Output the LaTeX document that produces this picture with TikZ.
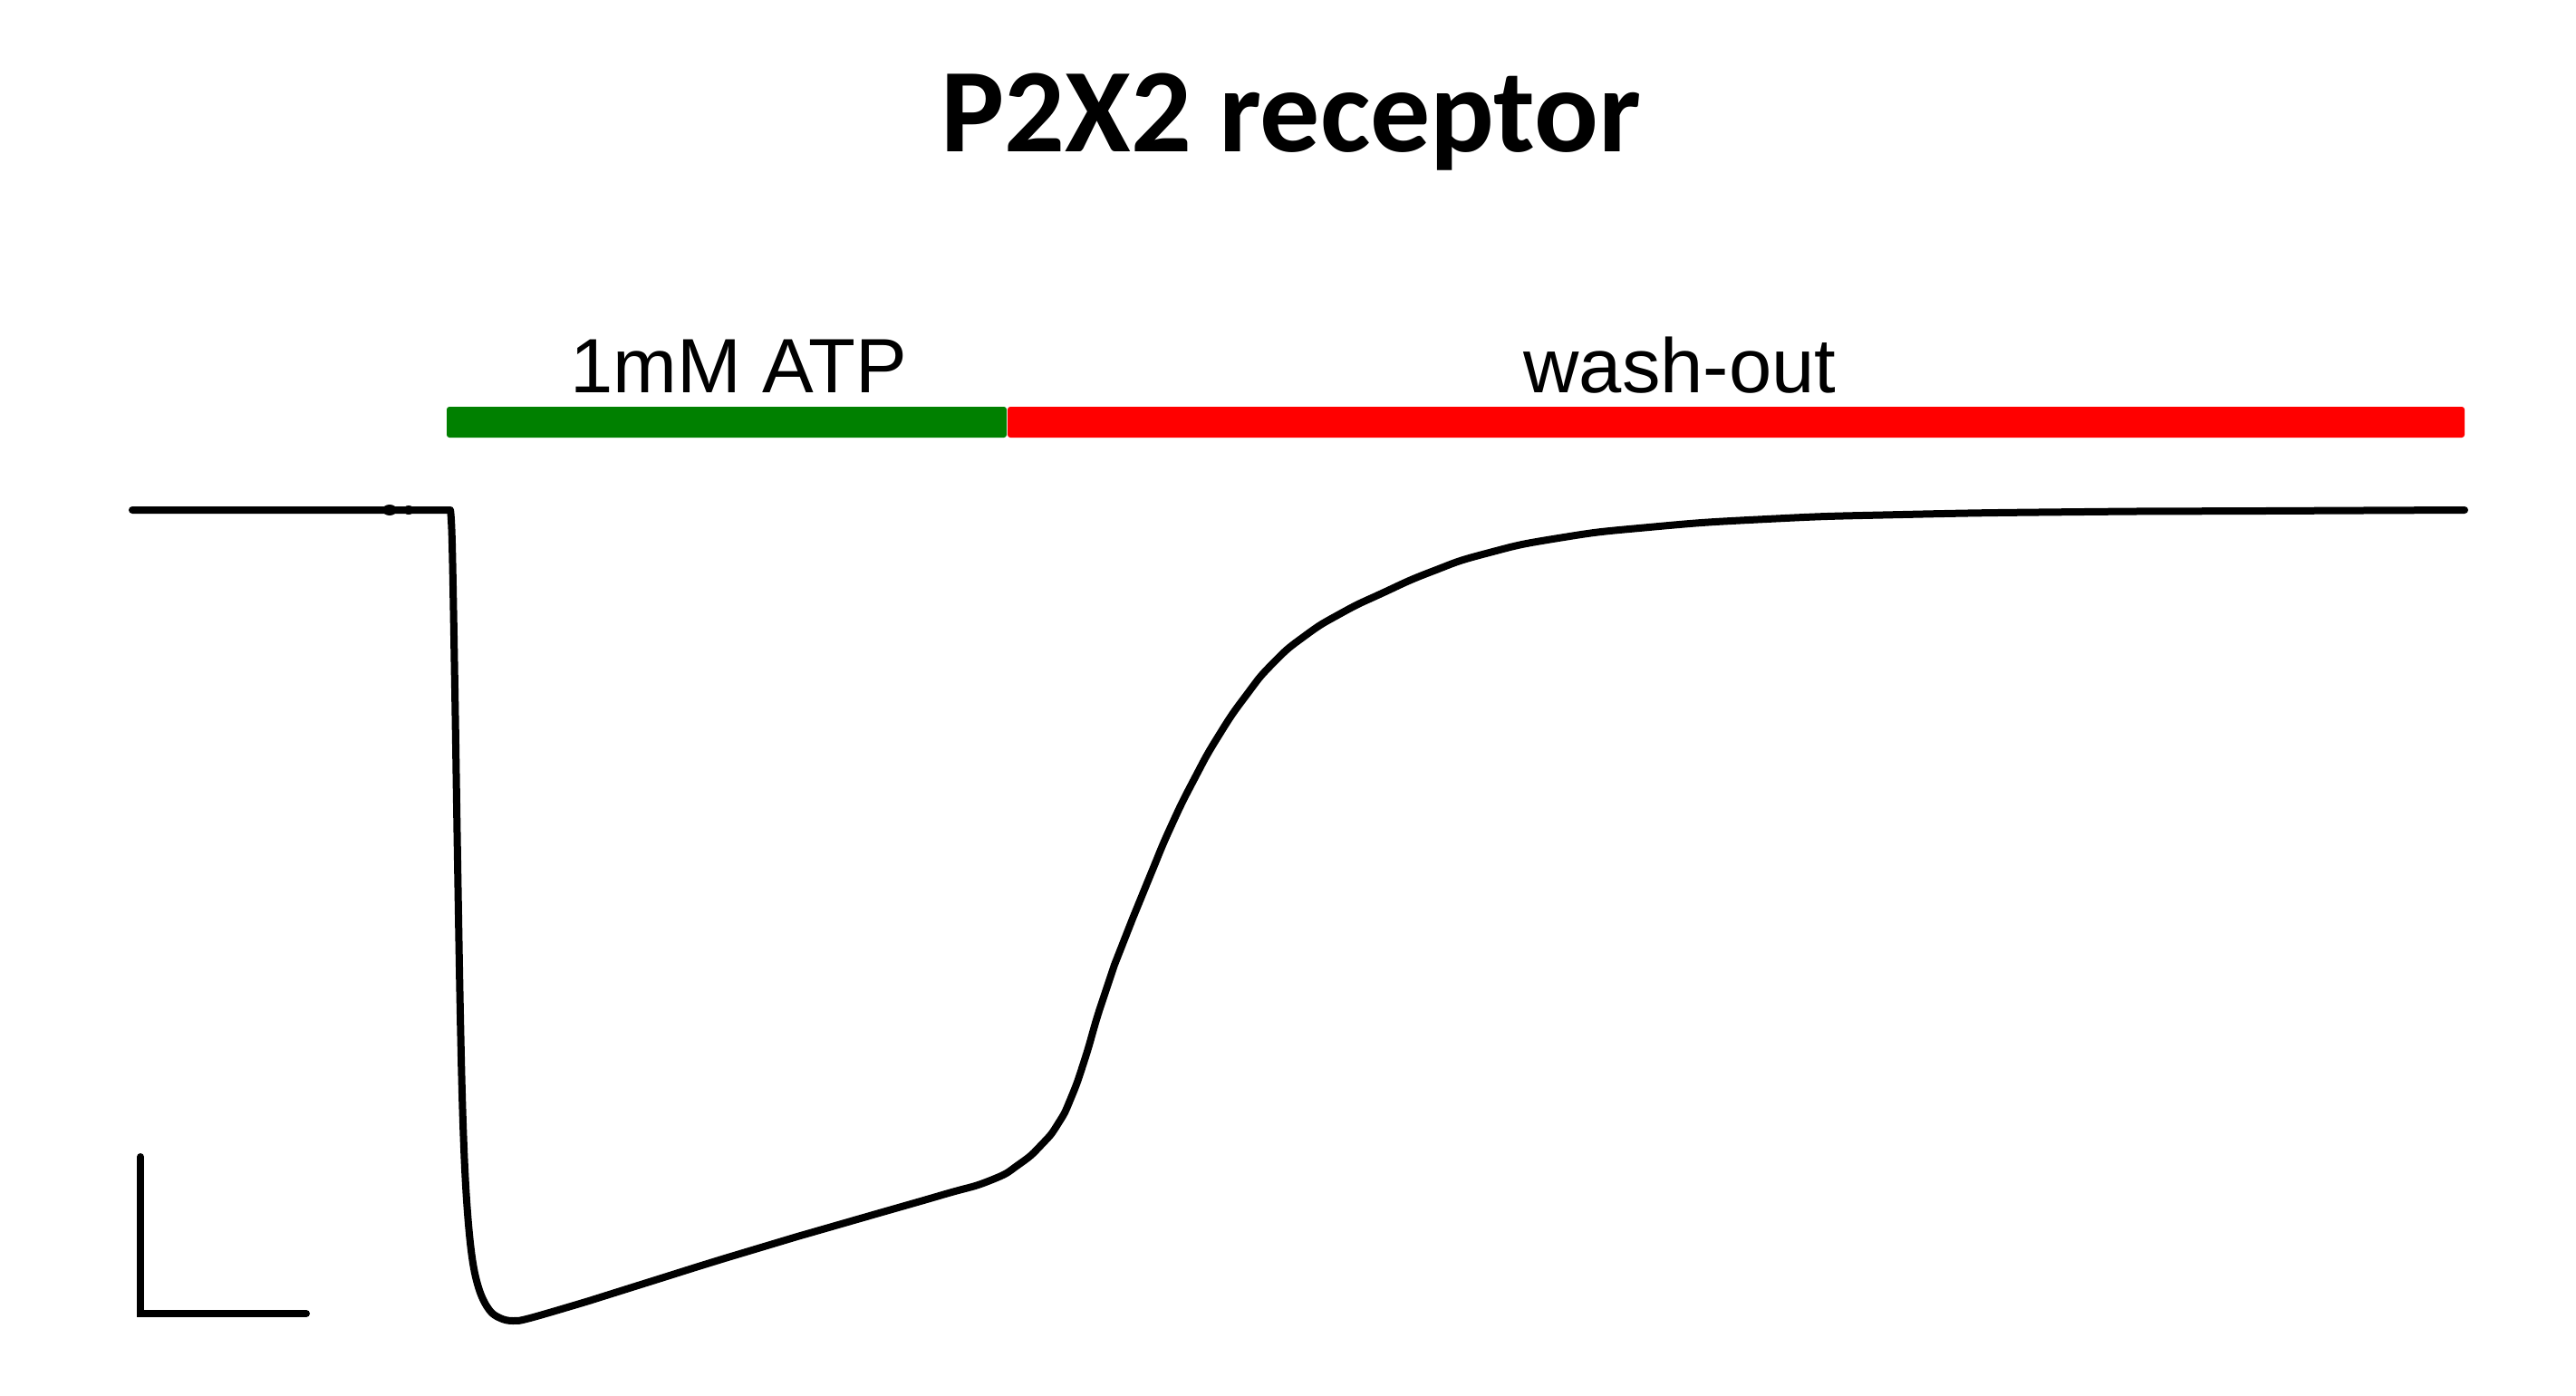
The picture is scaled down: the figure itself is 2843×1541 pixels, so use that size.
\documentclass[tikz,border=0pt]{standalone}
\usepackage{fontspec}
\setmainfont{Liberation Sans}
\newfontfamily\titlefont{Carlito}
\definecolor{atpgreen}{HTML}{008000}
\definecolor{washred}{HTML}{FF0000}
\begin{document}
\begin{tikzpicture}[x=1pt,y=-1pt,
  trace/.style={line width=8pt, black, line join=round, line cap=round},
  blob/.style={fill=black},
  scalebar/.style={line width=8pt, black, line cap=round, line join=miter},
  bar/.style={rounded corners=3pt, draw=none},
  label/.style={inner sep=0pt, anchor=base, font=\fontsize{85}{100}\selectfont},
  titletext/.style={inner sep=0pt, anchor=base, font=\titlefont\bfseries\fontsize{132}{150}\selectfont}]
\useasboundingbox (0,0) rectangle (2843,1541);
\fill[white] (0,0) rectangle (2843,1541);
% title
\node[titletext] (title) at (1425,168) {P2X2 receptor};
% application bars
\fill[bar, atpgreen] (493,449) rectangle (1111,483);
\fill[bar, washred] (1112,449) rectangle (2720,483);
\node[label] (atp) at (815,433) {1mM ATP};
\node[label] (wash) at (1854,433) {wash-out};
% current trace
\draw[trace] (146,563) -- (497,563)
  -- plot[smooth, tension=0.6] coordinates {(497,563) (499,600) (502,760) (505,950) (508,1120)
  (511,1240) (515,1325) (521,1388) (529,1424) (540,1446) (552,1455) (566,1458) (585,1455)
  (650,1436)}
  -- plot[smooth, tension=0.9] coordinates {(650,1436) (720,1414) (800,1389) (880,1365) (960,1342) (1040,1319) (1093,1303)
  (1125,1285) (1150,1263) (1168,1240) (1182,1212) (1197,1170) (1213,1116) (1230,1065)
  (1250,1014) (1270,965) (1292,913) (1318,860) (1345,812) (1375,768)
  (1405,732) (1440,702) (1480,677) (1525,655) (1580,631) (1640,611) (1720,594)
  (1820,582) (1950,573) (2100,568) (2300,565) (2500,564) (2720,563)};
\fill[blob] (430,563) ellipse (8pt and 6pt);
\fill[blob] (451,563) ellipse (6pt and 5pt);
% scale bar
\coordinate (sbtop) at (155,1277);
\coordinate (sbcorner) at (155,1450);
\coordinate (sbright) at (338,1450);
\draw[scalebar] (sbtop) -- (sbcorner) -- (sbright);
\end{tikzpicture}
\end{document}
